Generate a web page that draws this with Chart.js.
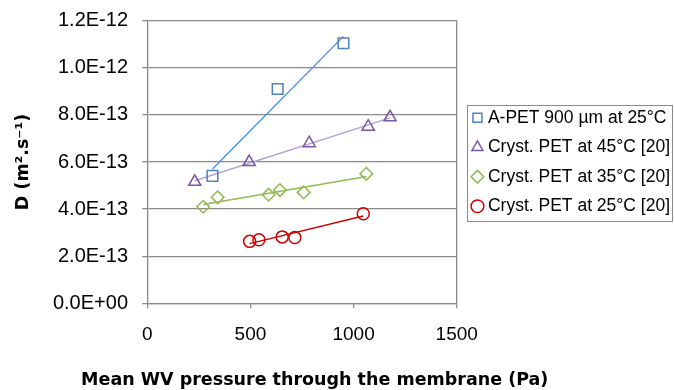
<!DOCTYPE html>
<html>
<head>
<meta charset="utf-8">
<script src="https://cdn.jsdelivr.net/npm/chart.js@4/dist/chart.umd.min.js"></script>
<style>
html, body { margin: 0; padding: 0; background: #ffffff; }
#wrap { width: 674px; height: 390px; position: relative; }
</style>
</head>
<body>
<div id="wrap"><canvas id="c" width="674" height="390"></canvas></div>
<script>
// ---- data ----
const seriesNames = ['A-PET 900 µm at 25°C', 'Cryst. PET at 45°C [20]', 'Cryst. PET at 35°C [20]', 'Cryst. PET at 25°C [20]'];
const apetX = [316, 632, 951];
const apetY = [5.41e-13, 9.10e-13, 11.04e-13];
const c45X = [230, 494, 785, 1071, 1177];
const c45Y = [5.16e-13, 6.00e-13, 6.80e-13, 7.50e-13, 7.90e-13];
const c35X = [271, 341, 588, 643, 758, 1062];
const c35Y = [4.10e-13, 4.50e-13, 4.61e-13, 4.81e-13, 4.71e-13, 5.50e-13];
const c25X = [496, 541, 654, 715, 1047];
const c25Y = [2.63e-13, 2.70e-13, 2.82e-13, 2.79e-13, 3.80e-13];
const xTicks = [0, 500, 1000, 1500];
const yTicks = [0, 2e-13, 4e-13, 6e-13, 8e-13, 1.0e-12, 1.2e-12];
const xTitle = 'Mean WV pressure through the membrane (Pa)';
const yTitle = 'D (m².s⁻¹)';

// ---- helpers ----
function pts(xs, ys) { return xs.map((x, i) => ({ x: x, y: ys[i] })); }
// least-squares linear trendline spanning the series' x range (as in the source chart)
function trend(xs, ys) {
  const n = xs.length;
  const mx = xs.reduce((a, b) => a + b, 0) / n;
  const my = ys.reduce((a, b) => a + b, 0) / n;
  let sxy = 0, sxx = 0;
  for (let i = 0; i < n; i++) { sxy += (xs[i] - mx) * (ys[i] - my); sxx += (xs[i] - mx) * (xs[i] - mx); }
  const b = sxy / sxx;
  const x0 = Math.min(...xs), x1 = Math.max(...xs);
  return [{ x: x0, y: my + b * (x0 - mx) }, { x: x1, y: my + b * (x1 - mx) }];
}
function fmtE(v) {
  const s = Number(v).toExponential(1);
  const [m, e] = s.split('e');
  const sign = e[0] === '-' ? '-' : '+';
  const digits = e.replace(/^[+-]/, '').padStart(2, '0');
  return m + 'E' + sign + digits;
}

const GRID = '#8a8a8a';
const TXT = "'Liberation Sans', Arial, sans-serif";
const BOLD = "'DejaVu Sans', Verdana, sans-serif";

const markerSets = [
  { x: apetX, y: apetY, style: 'rect', r: 7.5, color: '#4F81BD', line: '#4A8FE0' },
  { x: c45X, y: c45Y, style: 'triangle', r: 7, color: '#7A56A6', line: '#B4A0D6' },
  { x: c35X, y: c35Y, style: 'rectRot', r: 6.3, color: '#93B74F', line: '#92BC50' },
  { x: c25X, y: c25Y, style: 'circle', r: 6, color: '#D00000', line: '#C80000' }
];

const datasets = [];
markerSets.forEach((s, i) => {
  datasets.push({
    label: seriesNames[i],
    data: pts(s.x, s.y),
    showLine: false,
    pointStyle: s.style,
    pointRadius: s.r,
    pointHoverRadius: s.r,
    pointBorderColor: s.color,
    pointBackgroundColor: 'rgba(255,255,255,0)',
    pointBorderWidth: 1.5,
    borderColor: s.color,
    backgroundColor: 'rgba(255,255,255,0)'
  });
});
markerSets.forEach((s, i) => {
  datasets.push({
    label: seriesNames[i] + ' trend',
    data: trend(s.x, s.y),
    showLine: true,
    pointRadius: 0,
    borderColor: s.line,
    borderWidth: 1.4,
    fill: false
  });
});

// legend frame + x-axis title (drawn without the scale's width squeeze)
const extras = {
  id: 'extras',
  afterDraw(chart) {
    const ctx = chart.ctx;
    const lg = chart.legend;
    if (lg && lg.legendHitBoxes && lg.legendHitBoxes.length) {
      const hb = lg.legendHitBoxes;
      const left = lg.left + 3.5;
      const top = hb[0].top - 4.5;
      const bottom = hb[hb.length - 1].top + hb[hb.length - 1].height + 5.5;
      let right = 0;
      hb.forEach(h => { right = Math.max(right, h.left + h.width); });
      right = Math.min(right + 2.5, 673.5);
      ctx.save();
      ctx.strokeStyle = GRID;
      ctx.lineWidth = 1;
      ctx.strokeRect(Math.round(left) + 0.5, Math.round(top) + 0.5, Math.round(right - left), Math.round(bottom - top));
      ctx.restore();
    }
    const xs = chart.scales.x;
    ctx.save();
    ctx.fillStyle = '#000';
    ctx.font = 'bold 17.5px ' + BOLD;
    ctx.textAlign = 'center';
    ctx.textBaseline = 'middle';
    ctx.fillText(xTitle, (xs.left + xs.right) / 2 + 12.7, xs.bottom - 9.4);
    ctx.restore();
  }
};

Chart.defaults.color = '#000';
Chart.defaults.font.family = TXT;

new Chart(document.getElementById('c'), {
  type: 'scatter',
  data: { datasets: datasets },
  options: {
    responsive: false,
    animation: false,
    devicePixelRatio: 1,
    layout: { padding: { top: 20.7, right: 0, bottom: 0, left: 0 } },
    plugins: {
      tooltip: { enabled: false },
      legend: {
        display: true,
        position: 'right',
        align: 'center',
        fullSize: false,
        maxWidth: 210.3,
        labels: {
          usePointStyle: true,
          boxWidth: 3.5,
          boxHeight: 9,
          padding: 12,
          color: '#000',
          font: { family: TXT, size: 17.5 },
          filter: (item) => item.datasetIndex < 4
        }
      }
    },
    scales: {
      x: {
        type: 'linear',
        position: 'bottom',
        min: 0,
        max: 1500,
        afterBuildTicks: (s) => { s.ticks = xTicks.map(v => ({ value: v })); },
        afterFit: (s) => { s.height = 86.7; },
        grid: { drawOnChartArea: false, drawTicks: true, tickLength: 5, color: GRID, lineWidth: 1.3 },
        border: { display: true, color: GRID, width: 1.3 },
        ticks: { font: { family: TXT, size: 19 }, color: '#000', padding: 15, maxRotation: 0, callback: (v) => String(v) },
        title: { display: false }
      },
      y: {
        type: 'linear',
        position: 'left',
        min: 0,
        max: 1.2e-12,
        afterBuildTicks: (s) => { s.ticks = yTicks.map(v => ({ value: v })); },
        afterFit: (s) => { s.width = 147.3; },
        grid: { drawOnChartArea: true, drawTicks: true, tickLength: 5, color: GRID, lineWidth: 1.3 },
        border: { display: true, color: GRID, width: 1.3 },
        ticks: { font: { family: TXT, size: 20, lineHeight: 0.6 }, color: '#000', padding: 14.3, callback: (v) => fmtE(v) },
        title: {
          display: true,
          text: yTitle,
          color: '#000',
          font: { family: BOLD, size: 17.5, weight: 'bold', lineHeight: 1 },
          padding: { top: 14.5, bottom: 0 }
        }
      },
      y2: {
        type: 'linear',
        axis: 'y',
        position: 'right',
        display: true,
        afterFit: (s) => { s.width = 7; },
        ticks: { display: false },
        grid: { drawOnChartArea: false, drawTicks: false },
        border: { display: true, color: GRID, width: 1.3 }
      }
    }
  },
  plugins: [extras]
});
</script>
</body>
</html>
